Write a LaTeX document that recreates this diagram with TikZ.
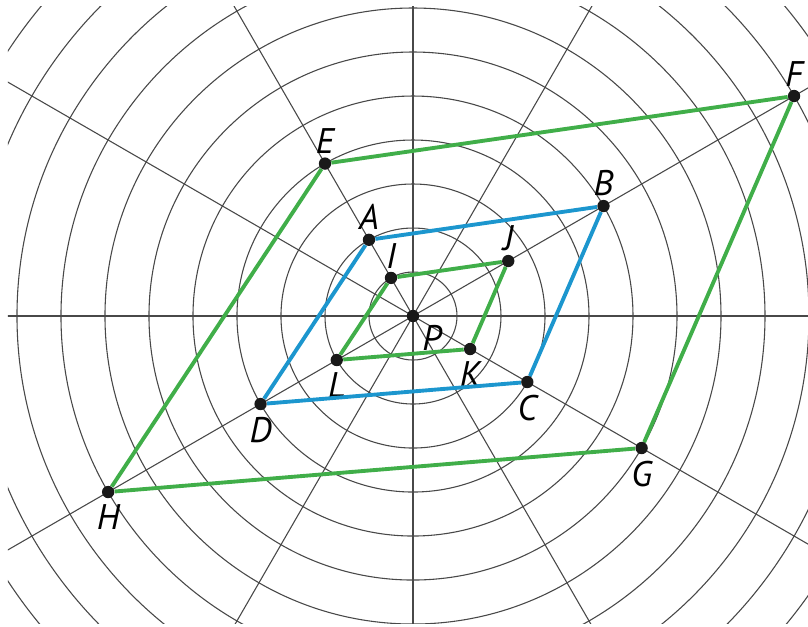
\documentclass[tikz,border=0pt]{standalone}
\usepackage{fontspec}
\newfontfamily\lblfont{PT Sans}
\usetikzlibrary{positioning}
\definecolor{gridgray}{RGB}{72,72,72}
\definecolor{rhgreen}{RGB}{64,174,73}
\definecolor{rhblue}{RGB}{28,150,206}

\begin{document}
\begin{tikzpicture}[
  every node/.style={font=\lblfont\itshape\fontsize{23}{26}\selectfont},
  grid/.style={draw=gridgray, line width=0.7pt},
  pt/.style={draw=none, circle, fill=black!90, minimum size=2.8mm, inner sep=0pt},
  lbl/.style={inner sep=0pt},
  greenside/.style={draw=rhgreen, line width=2.5pt},
  blueside/.style={draw=rhblue, line width=2.5pt},
]
\useasboundingbox (-9.386,-7.045) rectangle (8.977,7.182);
\begin{scope}
  \clip (-9.205,-6.977) rectangle (8.977,7.023);
  \foreach \r in {1,...,11}
    \draw[grid] (0,0) circle (\r);
  \foreach \a in {0,30,...,330}
    \draw[grid] (0,0) -- (\a:12.5);
\end{scope}
% the three rhombi
\node[pt, label={[lbl, label distance=2pt]above:I}] (I) at (120:1) {};
\node[pt, label={[lbl, label distance=2pt]above:J}] (J) at (30:2.5) {};
\node[pt, label={[lbl, label distance=4pt]below:K}] (K) at (-30:1.5) {};
\node[pt, label={[lbl, label distance=4pt]below:L}] (L) at (210:2) {};
\node[pt, label={[lbl, label distance=2pt]above:A}] (A) at (120:2) {};
\node[pt, label={[lbl, label distance=2pt]above:B}] (B) at (30:5) {};
\node[pt, label={[lbl, label distance=4pt]below:C}] (C) at (-30:3) {};
\node[pt, label={[lbl, label distance=4pt]below:D}] (D) at (210:4) {};
\node[pt, label={[lbl, label distance=2pt]above:E}] (E) at (120:4) {};
\node[pt, label={[lbl, label distance=2pt]above:F}] (F) at (30:10) {};
\node[pt, label={[lbl, label distance=4pt]below:G}] (G) at (-30:6) {};
\node[pt, label={[lbl, label distance=4pt]below:H}] (H) at (210:8) {};
\node[pt, label={[lbl, label distance=4pt]-45:P}] (P) at (0,0) {};
\draw[greenside] (I) -- (J) -- (K) -- (L) -- (I);
\draw[blueside] (A) -- (B) -- (C) -- (D) -- (A);
\draw[greenside] (E) -- (F) -- (G) -- (H) -- (E);
\end{tikzpicture}
\end{document}
